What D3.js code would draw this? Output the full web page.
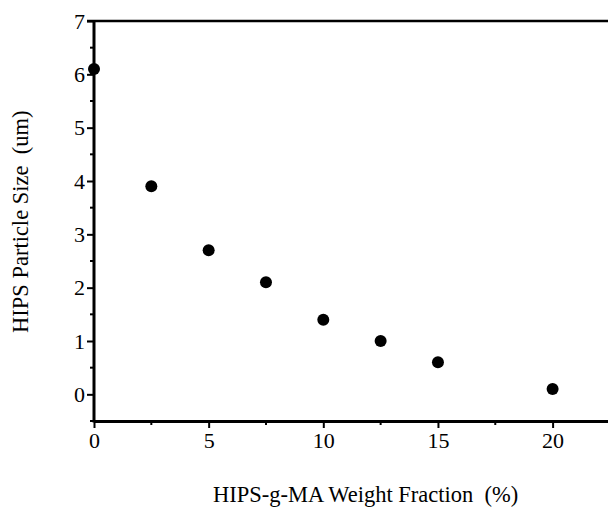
<!DOCTYPE html>
<html>
<head>
<meta charset="utf-8">
<script src="https://cdn.jsdelivr.net/npm/d3@7"></script>
</head>
<body style="margin:0; background:#fff">
<svg id="chart"></svg>
<script>
const fractions = [0, 2.5, 5, 7.5, 10, 12.5, 15, 20];
const sizes = [6.1, 3.9, 2.7, 2.1, 1.4, 1.0, 0.6, 0.1];
const xTicks = [0, 5, 10, 15, 20];
const yTicks = [0, 1, 2, 3, 4, 5, 6, 7];

const width = 608;
const height = 509;
const margin = { top: 21, left: 94, bottom: 88 };
const serif = 'Liberation Serif';
const fontSize = '22px';

const svg = d3.select('#chart')
  .attr('width', width)
  .attr('height', height);

const x = d3.scaleLinear()
  .domain([0, 22.5])
  .range([margin.left, margin.left + 22.5 * 22.93]);
const y = d3.scaleLinear()
  .domain([-0.5, 7])
  .range([height - margin.bottom, margin.top]);

const data = fractions.map((f, i) => ({ f, s: sizes[i] }));

// minor ticks at the half steps
const minorX = d3.range(0, 22.6, 2.5).filter(v => !xTicks.includes(v));
const minorY = d3.range(-0.5, 7.01, 0.5).filter(v => !yTicks.includes(v));

const g = svg.append('g');

g.selectAll('line.minor-x')
  .data(minorX)
  .enter().append('line')
    .attr('x1', d => x(d))
    .attr('x2', d => x(d))
    .attr('y1', y(-0.5))
    .attr('y2', y(-0.5) + 4)
    .attr('stroke', '#000')
    .attr('stroke-width', 2);

g.selectAll('line.minor-y')
  .data(minorY)
  .enter().append('line')
    .attr('x1', x(0) - 4)
    .attr('x2', x(0))
    .attr('y1', d => y(d))
    .attr('y2', d => y(d))
    .attr('stroke', '#000')
    .attr('stroke-width', 2);

// axes
const xAxis = d3.axisBottom(x)
  .tickValues(xTicks)
  .tickSizeInner(7)
  .tickSizeOuter(0)
  .tickPadding(4);
const yAxis = d3.axisLeft(y)
  .tickValues(yTicks)
  .tickSizeInner(7)
  .tickSizeOuter(0)
  .tickPadding(2);

const gx = svg.append('g')
  .attr('transform', `translate(0, ${y(-0.5)})`)
  .call(xAxis);
const gy = svg.append('g')
  .attr('transform', `translate(${x(0)}, 0)`)
  .call(yAxis);

[gx, gy].forEach(a => {
  a.attr('font-family', serif).attr('font-size', 22);
  a.selectAll('.domain').attr('stroke-width', 3);
  a.selectAll('.tick line').attr('stroke-width', 2);
  a.selectAll('.tick text')
    .style('font-family', `"${serif}"`)
    .style('font-size', fontSize)
    .attr('fill', '#000');
});
gy.select('.domain').attr('d', `M0,${y(-0.5) + 1.5}V${y(7)}`);

// top frame line
svg.append('line')
  .attr('x1', x(0) - 7)
  .attr('x2', x(22.5))
  .attr('y1', y(7))
  .attr('y2', y(7))
  .attr('stroke', '#000')
  .attr('stroke-width', 2.5);

// points
svg.selectAll('circle')
  .data(data)
  .enter().append('circle')
    .attr('cx', d => x(d.f))
    .attr('cy', d => y(d.s))
    .attr('r', 6)
    .attr('fill', '#000');

// axis titles
svg.append('text')
  .attr('x', 213)
  .attr('y', 502)
  .style('font-family', `"${serif}"`)
  .style('font-size', '22.5px')
  .text('HIPS-g-MA Weight Fraction\u00a0\u00a0(%)');

svg.append('text')
  .attr('transform', 'translate(28, 333) rotate(-90)')
  .style('font-family', `"${serif}"`)
  .style('font-size', '22.5px')
  .text('HIPS Particle Size\u00a0\u00a0(um)');
</script>
</body>
</html>
